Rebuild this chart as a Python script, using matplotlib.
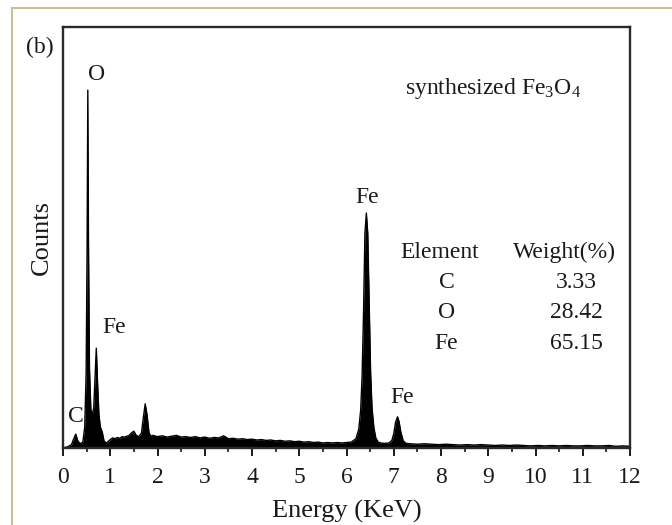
#!/usr/bin/env python3
import matplotlib
matplotlib.use("Agg")
import matplotlib.pyplot as plt
from matplotlib.lines import Line2D

# ========== EDS spectrum (counts in arbitrary units) ==========
energy_kev = [
    0.00, 0.10, 0.18, 0.22, 0.27, 0.31, 0.36, 0.42, 0.46, 0.49, 0.51, 0.525, 0.54, 0.56,
    0.59, 0.62, 0.65, 0.68, 0.705, 0.73, 0.76, 0.79, 0.83, 0.87, 0.92, 1.00, 1.05, 1.10,
    1.15, 1.20, 1.25, 1.30, 1.35, 1.40, 1.45, 1.50, 1.55, 1.60, 1.66, 1.70, 1.74, 1.78,
    1.82, 1.86, 1.90, 2.00, 2.10, 2.20, 2.30, 2.40, 2.50, 2.60, 2.70, 2.80, 2.90, 3.00,
    3.10, 3.20, 3.30, 3.40, 3.50, 3.60, 3.70, 3.80, 3.90, 4.00, 4.10, 4.20, 4.30, 4.40,
    4.50, 4.60, 4.70, 4.80, 4.90, 5.00, 5.10, 5.20, 5.30, 5.40, 5.50, 5.60, 5.70, 5.80,
    5.90, 6.00, 6.10, 6.20, 6.26, 6.30, 6.33, 6.36, 6.39, 6.42, 6.45, 6.48, 6.51, 6.54,
    6.58, 6.62, 6.67, 6.72, 6.80, 6.90, 6.96, 7.00, 7.04, 7.08, 7.11, 7.15, 7.20, 7.26,
    7.35, 7.50, 7.65, 7.80, 7.95, 8.10, 8.25, 8.40, 8.55, 8.70, 8.85, 9.00, 9.15, 9.30,
    9.45, 9.60, 9.75, 9.90, 10.05, 10.20, 10.35, 10.50, 10.65, 10.80, 10.95, 11.10,
    11.25, 11.40, 11.55, 11.70, 11.85, 12.00,
]
counts = [
    0, 3, 8, 20, 33, 18, 10, 14, 50, 180, 480, 850, 480, 190,
    90, 80, 95, 170, 237, 160, 80, 50, 38, 16, 12, 20, 24, 22,
    25, 23, 27, 26, 28, 30, 36, 40, 30, 27, 35, 72, 105, 78,
    36, 28, 30, 27, 29, 26, 28, 30, 26, 27, 25, 27, 24, 26,
    23, 25, 24, 29, 22, 23, 21, 22, 20, 21, 19, 20, 18, 19,
    17, 18, 16, 17, 15, 16, 14, 15, 13, 14, 12, 13, 12, 13,
    12, 13, 14, 22, 45, 90, 170, 320, 510, 558, 510, 340, 180, 95,
    48, 24, 14, 12, 11, 12, 18, 34, 62, 74, 64, 38, 17, 11,
    10, 9, 10, 9, 8, 9, 8, 7, 8, 7, 8, 7, 6, 7,
    6, 7, 6, 5, 6, 5, 6, 5, 6, 5, 5, 6,
    5, 5, 6, 4, 5, 4,
]

# peak labels
peak_labels = ["C", "O", "Fe", "Fe", "Fe"]
peak_label_x = [0.28, 0.72, 1.08, 6.43, 7.18]
peak_label_y = [74, 886, 287, 594, 121]

# composition table
elements = ["C", "O", "Fe"]
weights = ["3.33", "28.42", "65.15"]

plt.rcParams["font.family"] = ["Liberation Serif", "DejaVu Serif"]
plt.rcParams["mathtext.fontset"] = "custom"
plt.rcParams["mathtext.rm"] = "Liberation Serif"
plt.rcParams["mathtext.it"] = "Liberation Serif:italic"

ink = "#1a1a1a"

fig = plt.figure(figsize=(6.72, 5.25), dpi=100)
fig.patch.set_facecolor("white")
ax = fig.add_axes([63 / 672, 1 - 448 / 525, (630 - 63) / 672, (448 - 27) / 525])

ax.fill_between(energy_kev, counts, 0, color="black", linewidth=0)
ax.plot(energy_kev, counts, color="black", linewidth=1.0)

ax.set_xlim(0, 12)
ax.set_ylim(0, 1000)
ax.set_xticks(range(0, 13))
ax.set_xticks([x + 0.5 for x in range(12)], minor=True)
ax.set_yticks([])
ax.tick_params(axis="x", which="major", direction="out", length=5.5, width=1.4,
               labelsize=17, pad=8, colors=ink)
ax.tick_params(axis="x", which="minor", direction="out", length=3, width=1.2,
               colors=ink)
for sp in ax.spines.values():
    sp.set_linewidth(1.7)
    sp.set_color("#2a2a2a")

ax.set_xlabel("Energy (KeV)", fontsize=19, color=ink, labelpad=9)
ax.set_ylabel("Counts", fontsize=19, color=ink, labelpad=7)

for lab, x, y in zip(peak_labels, peak_label_x, peak_label_y):
    ax.text(x, y, lab, fontsize=17, ha="center", va="center", color=ink)

ax.text(7.24, 855, "synthesized Fe$_3$O$_4$", fontsize=17, ha="left", va="center",
        color=ink)

# table of weight percentages
ax.text(7.98, 465, "Element", fontsize=17, ha="center", va="center", color=ink)
ax.text(10.62, 465, "Weight(%)", fontsize=17, ha="center", va="center", color=ink)
row_y = [394, 321, 249]
for el, w, y in zip(elements, weights, row_y):
    ax.text(8.12, y, el, fontsize=17, ha="center", va="center", color=ink)
    ax.text(10.86, y, w, fontsize=17, ha="center", va="center", color=ink)

fig.text(40 / 672, 1 - 47 / 525, "(b)", fontsize=17, ha="center", va="center",
         color=ink)

# khaki frame of the original figure panel
khaki = "#c9c094"
fig.add_artist(Line2D([12 / 672, 12 / 672], [0, 1 - 8 / 525], color=khaki, lw=1.5))
fig.add_artist(Line2D([12 / 672, 1], [1 - 8 / 525, 1 - 8 / 525], color=khaki, lw=1.5))

fig.savefig("out.png", dpi=100, facecolor="white")
